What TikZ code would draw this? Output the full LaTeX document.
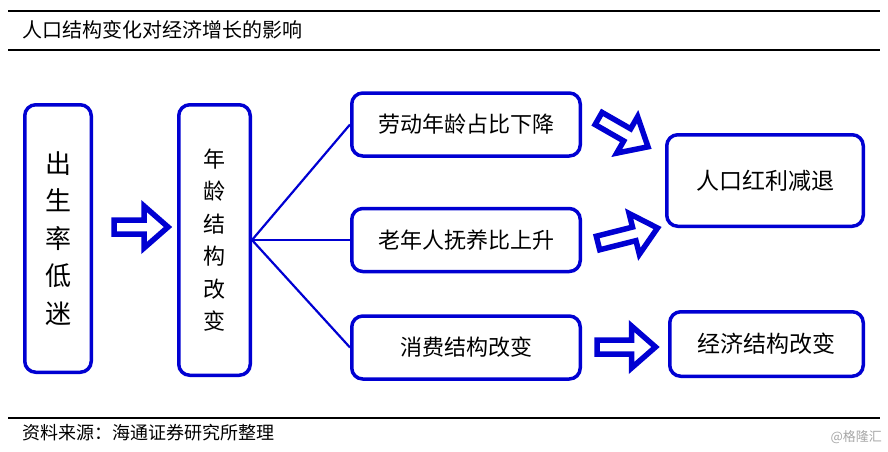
\documentclass[tikz,border=0pt]{standalone}
\usepackage{fontspec}
\setmainfont{Noto Sans CJK SC}
\usepackage{tikz}
\usetikzlibrary{calc}
\definecolor{boxblue}{RGB}{0,0,210}

\begin{document}
\begin{tikzpicture}[x=1pt,y=-1pt,
  box/.style={draw=boxblue,line width=3.5pt,rounded corners=11pt,inner sep=0pt,align=center},
  link/.style={draw=boxblue,line width=2.2pt},
  hollow/.style={draw=boxblue,line width=5.5pt,fill=white,line join=miter,
    to path={
      ($(\tikztotarget)!24pt!(\tikztostart)$) coordinate (hb)
      ($(\tikztostart)!7pt!90:(\tikztotarget)$) -- ($(hb)!7pt!90:(\tikztotarget)$)
      -- ($(hb)!21pt!90:(\tikztotarget)$) -- (\tikztotarget)
      -- ($(hb)!21pt!-90:(\tikztotarget)$) -- ($(hb)!7pt!-90:(\tikztotarget)$)
      -- ($(\tikztostart)!7pt!-90:(\tikztotarget)$) -- cycle}}]
		  \useasboundingbox (0,0) rectangle (888,451);
		  % rules and captions
		  \draw[line width=1.5pt] (8,11) -- (880,11);
		  \draw[line width=1.5pt] (8,50) -- (880,50);
		  \draw[line width=1.5pt] (8,418) -- (880,418);
		  \node[anchor=west,inner sep=0pt,font=\fontsize{20}{24}\selectfont] (title) at (22,30) {人口结构变化对经济增长的影响};
		  \node[anchor=west,inner sep=0pt,font=\fontsize{18}{22}\selectfont] (source) at (22,433) {资料来源：海通证券研究所整理};
		  \node[anchor=east,inner sep=0pt,text=gray!70,font=\fontsize{13}{15}\selectfont] (mark) at (882,437) {@格隆汇};
		  % boxes
		  \node[box,minimum width=66.5,minimum height=267.5,font=\fontsize{26}{37.5}\selectfont] (birth) at (58,238.5) {出\\生\\率\\低\\迷};
		  \node[box,minimum width=71.5,minimum height=270.5,font=\fontsize{22}{32.5}\selectfont] (age) at (214.5,240) {年\\龄\\结\\构\\改\\变};
		  \node[box,minimum width=228.5,minimum height=63,font=\fontsize{22}{26}\selectfont] (labor) at (466,124.5) {劳动年龄占比下降};
		  \node[box,minimum width=228.5,minimum height=63,font=\fontsize{22}{26}\selectfont] (elder) at (466,240) {老年人抚养比上升};
		  \node[box,minimum width=228.5,minimum height=63,font=\fontsize{22}{26}\selectfont] (consume) at (466,347.5) {消费结构改变};
		  \node[box,minimum width=196.5,minimum height=91.5,font=\fontsize{23}{27}\selectfont] (bonus) at (765,180.5) {人口红利减退};
		  \node[box,minimum width=193.5,minimum height=64.5,font=\fontsize{23}{27}\selectfont] (econ) at (766.5,344) {经济结构改变};
		  % branches
		  \draw[link] (age.east) -- (labor.west);
		  \draw[link] (age.east) -- (elder.west);
		  \draw[link] (age.east) -- (consume.west);
		  % hollow arrows
		  \coordinate (t0) at (114,227);   \coordinate (h0) at (168,227);
		  \coordinate (t1) at (598.6,118.5); \coordinate (h1) at (648,146.8);
		  \coordinate (t2) at (598,243);   \coordinate (h2) at (657.5,228);
		  \coordinate (t3) at (597,347);   \coordinate (h3) at (655.5,347);
		  \draw[hollow] (t0) to (h0);
		  \draw[hollow] (t1) to (h1);
		  \draw[hollow] (t2) to (h2);
		  \draw[hollow] (t3) to (h3);
		\end{tikzpicture}
\end{document}
